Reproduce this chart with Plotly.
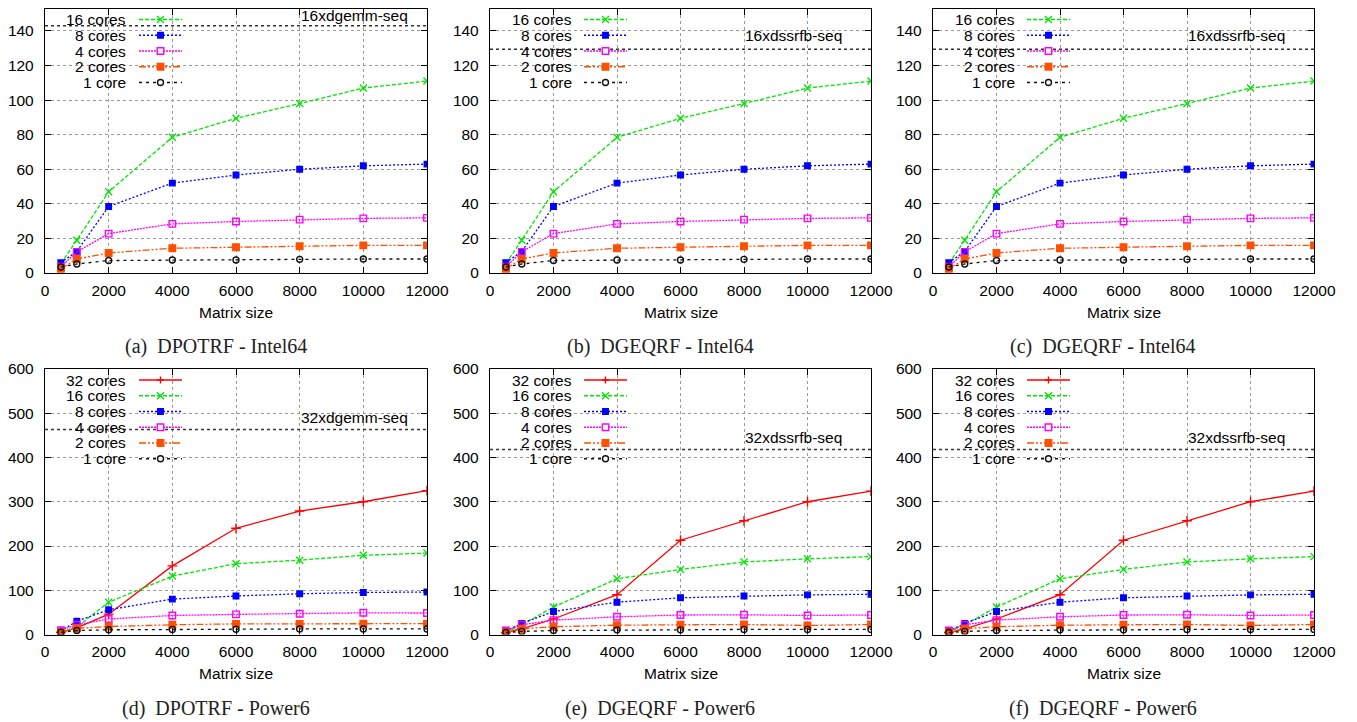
import plotly.graph_objects as go

# ---------------- data ----------------
SIZES = [500, 1000, 2000, 4000, 6000, 8000, 10000, 12000]
XTICKS = [0, 2000, 4000, 6000, 8000, 10000, 12000]
XTICK_LABELS = ["0", "2000", "4000", "6000", "8000", "10000", "12000"]

TOP_SERIES = ["16 cores", "8 cores", "4 cores", "2 cores", "1 core"]
BOTTOM_SERIES = ["32 cores", "16 cores", "8 cores", "4 cores", "2 cores", "1 core"]

# (a) DPOTRF - Intel64
INTEL_DPOTRF_16 = [5.5, 19, 47, 78.5, 89.5, 98, 107, 111]
INTEL_DPOTRF_8 = [6, 12.5, 38.5, 52, 56.7, 60, 62, 63]
INTEL_DPOTRF_4 = [3.6, 12.2, 22.8, 28.4, 29.8, 30.9, 31.6, 31.9]
INTEL_DPOTRF_2 = [2.5, 8.1, 11.6, 14.3, 14.9, 15.5, 16, 16]
INTEL_DPOTRF_1 = [3.5, 5.2, 7.2, 7.5, 7.5, 7.9, 8.1, 8.1]

# (b), (c) DGEQRF - Intel64
INTEL_DGEQRF_16 = [5.5, 19, 47, 78.5, 89.5, 98, 107, 111]
INTEL_DGEQRF_8 = [6, 12.5, 38.5, 52, 56.7, 60, 62, 63]
INTEL_DGEQRF_4 = [3.6, 12.2, 22.8, 28.4, 29.8, 30.9, 31.6, 31.9]
INTEL_DGEQRF_2 = [2.5, 8.1, 11.6, 14.3, 14.9, 15.5, 16, 16]
INTEL_DGEQRF_1 = [3.5, 5.2, 7.2, 7.5, 7.5, 7.9, 8.1, 8.1]

# (d) DPOTRF - Power6
POWER_DPOTRF_32 = [5, 15, 46, 155, 240, 279, 300, 325]
POWER_DPOTRF_16 = [6, 17, 73, 132, 160, 168, 179, 184]
POWER_DPOTRF_8 = [8, 30, 56, 80, 87, 92, 95, 96]
POWER_DPOTRF_4 = [10, 22, 35, 43, 45.5, 47, 49, 48.5]
POWER_DPOTRF_2 = [6, 14, 18, 22, 24, 24, 24.5, 24.5]
POWER_DPOTRF_1 = [5, 9, 10.6, 11.5, 12, 12.5, 12.5, 12.5]

# (e), (f) DGEQRF - Power6
POWER_DGEQRF_32 = [4.5, 13, 35, 90, 213, 257, 300, 324]
POWER_DGEQRF_16 = [5, 22, 62, 126, 147, 164, 171, 176]
POWER_DGEQRF_8 = [8, 25, 52, 73, 83, 87, 89.5, 91]
POWER_DGEQRF_4 = [9, 22, 32.5, 40, 44, 44.5, 43, 44]
POWER_DGEQRF_2 = [5, 13, 17.5, 21, 22, 22.5, 20.5, 22.5]
POWER_DGEQRF_1 = [4.5, 7, 9, 10.5, 10.5, 11.5, 11.5, 11.5]

PEAKS = [143, 129.5, 129.5, 463, 418, 418]
PEAK_LABELS = ["16xdgemm-seq", "16xdssrfb-seq", "16xdssrfb-seq",
               "32xdgemm-seq", "32xdssrfb-seq", "32xdssrfb-seq"]
PEAK_LABEL_X = [8000, 8000, 8000, 8000, 8000, 8000]
PEAK_LABEL_Y = [148.8, 137.5, 137.5, 490, 445, 445]

CAPTIONS = ["(a)\u00a0\u00a0DPOTRF - Intel64", "(b)\u00a0\u00a0DGEQRF - Intel64",
            "(c)\u00a0\u00a0DGEQRF - Intel64", "(d)\u00a0\u00a0DPOTRF - Power6",
            "(e)\u00a0\u00a0DGEQRF - Power6", "(f)\u00a0\u00a0DGEQRF - Power6"]

PANELS = [
    dict(names=TOP_SERIES, values=[INTEL_DPOTRF_16, INTEL_DPOTRF_8, INTEL_DPOTRF_4, INTEL_DPOTRF_2, INTEL_DPOTRF_1]),
    dict(names=TOP_SERIES, values=[INTEL_DGEQRF_16, INTEL_DGEQRF_8, INTEL_DGEQRF_4, INTEL_DGEQRF_2, INTEL_DGEQRF_1]),
    dict(names=TOP_SERIES, values=[INTEL_DGEQRF_16, INTEL_DGEQRF_8, INTEL_DGEQRF_4, INTEL_DGEQRF_2, INTEL_DGEQRF_1]),
    dict(names=BOTTOM_SERIES, values=[POWER_DPOTRF_32, POWER_DPOTRF_16, POWER_DPOTRF_8, POWER_DPOTRF_4, POWER_DPOTRF_2, POWER_DPOTRF_1]),
    dict(names=BOTTOM_SERIES, values=[POWER_DGEQRF_32, POWER_DGEQRF_16, POWER_DGEQRF_8, POWER_DGEQRF_4, POWER_DGEQRF_2, POWER_DGEQRF_1]),
    dict(names=BOTTOM_SERIES, values=[POWER_DGEQRF_32, POWER_DGEQRF_16, POWER_DGEQRF_8, POWER_DGEQRF_4, POWER_DGEQRF_2, POWER_DGEQRF_1]),
]

# ---------------- styles / layout ----------------
# the page body has an 8px margin, so the figure is offset by 8px
PAGE_OFF = 8
SCREEN_W, SCREEN_H = 1357, 722
W, H = SCREEN_W - PAGE_OFF, SCREEN_H - PAGE_OFF
COLS_PX = [(45, 427), (490, 871), (933, 1314)]
ROWS_PX = [(8.5, 273), (369, 634.5)]
YRANGES = [[0, 153.0], [0, 600]]
YDTICK = [20, 100]
CAPTION_X = [216, 660, 1103]
CAPTION_Y = [346, 708]
XTITLE_Y = [312.5, 673.5]

SANS = "Liberation Sans, Arial, sans-serif"
SERIF = "Liberation Serif, Times New Roman, serif"
FS = 15.5

STYLE = {
    "1 core": dict(color="#111111", dash="3px,4px", symbol="circle-open", size=6),
    "2 cores": dict(color="#ff4f00", dash="7px,2px,2px,2px,2px,2px", symbol="square", size=6.5),
    "4 cores": dict(color="#ff00ff", dash="2px,1px", symbol="square-open", size=6.5),
    "8 cores": dict(color="#0000ff", dash="2px,2px", symbol="square", size=5.5),
    "16 cores": dict(color="#00e600", dash="4px,2px", symbol="x-thin-open", size=7),
    "32 cores": dict(color="#ff0000", dash="solid", symbol="cross-thin-open", size=7),
}


def clamp(v):
    return min(1.0, max(0.0, v))


def px2x(p):
    return (p - PAGE_OFF) / W


def px2y(p):
    return 1 - (p - PAGE_OFF) / H


fig = go.Figure()
shapes = []
annotations = []
layout_axes = {}

for k, panel in enumerate(PANELS):
    r, c = divmod(k, 3)
    x0, x1 = COLS_PX[c]
    yt, yb = ROWS_PX[r]
    ax = "" if k == 0 else str(k + 1)
    xname, yname = "x" + ax, "y" + ax

    common = dict(showline=True, linecolor="black", linewidth=1.3, mirror="ticks",
                  ticks="inside", ticklen=6, tickwidth=1, tickcolor="black",
                  showgrid=True, gridcolor="#9a9a9a", gridwidth=1, griddash="dot",
                  zeroline=False, automargin=False,
                  tickfont=dict(family=SANS, size=FS, color="black"))
    layout_axes["xaxis" + ax] = dict(common, domain=[clamp(px2x(x0)), clamp(px2x(x1))],
                                     anchor=yname, range=[0, 12000], tickvals=XTICKS,
                                     ticktext=XTICK_LABELS, ticklabelstandoff=3)
    layout_axes["yaxis" + ax] = dict(common, domain=[clamp(px2y(yb)), clamp(px2y(yt))],
                                     anchor=xname, range=YRANGES[r], tick0=0,
                                     dtick=YDTICK[r], ticklabelstandoff=7)

    for name, vals in zip(panel["names"], panel["values"]):
        st = STYLE[name]
        fig.add_trace(go.Scatter(
            x=SIZES, y=vals, name=name, mode="lines+markers", showlegend=False,
            xaxis=xname, yaxis=yname,
            line=dict(color=st["color"], width=1.3, dash=st["dash"]),
            marker=dict(symbol=st["symbol"], size=st["size"], color=st["color"],
                        line=dict(color=st["color"], width=1.4)),
        ))

    # opaque key background (hides grid)
    n = len(panel["names"])
    row0 = yt + 11
    shapes.append(dict(type="rect", xref="paper", yref="paper", layer="between",
                       x0=px2x(x0 + 1), x1=px2x(x0 + 145), y0=px2y(yt + 1),
                       y1=px2y(row0 + 15.75 * (n - 1) + 8),
                       fillcolor="white", line=dict(width=0)))

    # peak line
    shapes.append(dict(type="line", xref=xname + " domain", yref=yname,
                       x0=0, x1=1, y0=PEAKS[k], y1=PEAKS[k], layer="above",
                       line=dict(color="#333333", width=1.5, dash="dot")))
    annotations.append(dict(text=PEAK_LABELS[k], xref=xname, yref=yname,
                            x=PEAK_LABEL_X[k], y=PEAK_LABEL_Y[k], xanchor="left",
                            yanchor="middle", showarrow=False, borderpad=0,
                            font=dict(family=SANS, size=FS, color="black")))

    # key (gnuplot style: text on the left, sample on the right)
    for i, name in enumerate(panel["names"]):
        st = STYLE[name]
        cy = row0 + 15.75 * i
        annotations.append(dict(text=name, xref="paper", yref="paper",
                                x=px2x(x0 + 83.5), y=px2y(cy), xanchor="right",
                                yanchor="middle", showarrow=False,
                                font=dict(family=SANS, size=FS, color="black")))
        shapes.append(dict(type="line", xref="paper", yref="paper", layer="above",
                           x0=px2x(x0 + 94), x1=px2x(x0 + 137), y0=px2y(cy), y1=px2y(cy),
                           line=dict(color=st["color"], width=1.3, dash=st["dash"])))
        mx = x0 + 115.5
        h = st["size"] / 2
        sym = st["symbol"]
        if sym in ("square", "square-open"):
            shapes.append(dict(type="rect", xref="paper", yref="paper", layer="above",
                               x0=px2x(mx - h), x1=px2x(mx + h), y0=px2y(cy + h), y1=px2y(cy - h),
                               fillcolor=st["color"] if sym == "square" else "white",
                               line=dict(color=st["color"], width=1.4)))
        elif sym == "circle-open":
            shapes.append(dict(type="circle", xref="paper", yref="paper", layer="above",
                               x0=px2x(mx - h), x1=px2x(mx + h), y0=px2y(cy + h), y1=px2y(cy - h),
                               fillcolor="white", line=dict(color=st["color"], width=1.4)))
        elif sym == "x-thin-open":
            path = (f"M {px2x(mx - h)} {px2y(cy - h)} L {px2x(mx + h)} {px2y(cy + h)} "
                    f"M {px2x(mx - h)} {px2y(cy + h)} L {px2x(mx + h)} {px2y(cy - h)}")
            shapes.append(dict(type="path", xref="paper", yref="paper", layer="above",
                               path=path, line=dict(color=st["color"], width=1.4)))
        else:
            path = (f"M {px2x(mx - h)} {px2y(cy)} L {px2x(mx + h)} {px2y(cy)} "
                    f"M {px2x(mx)} {px2y(cy + h)} L {px2x(mx)} {px2y(cy - h)}")
            shapes.append(dict(type="path", xref="paper", yref="paper", layer="above",
                               path=path, line=dict(color=st["color"], width=1.4)))

    # axis title and caption
    annotations.append(dict(text="Matrix size", xref="paper", yref="paper",
                            x=px2x((x0 + x1) / 2), y=px2y(XTITLE_Y[r]), xanchor="center",
                            yanchor="middle", showarrow=False,
                            font=dict(family=SANS, size=FS, color="black")))
    annotations.append(dict(text=CAPTIONS[k], xref="paper", yref="paper",
                            x=px2x(CAPTION_X[c]), y=px2y(CAPTION_Y[r]), xanchor="center",
                            yanchor="middle", showarrow=False,
                            font=dict(family=SERIF, size=20, color="#222222")))

fig.update_layout(
    width=W, height=H, autosize=False,
    margin=dict(l=0, r=0, t=0, b=0),
    paper_bgcolor="white", plot_bgcolor="white",
    showlegend=False, shapes=shapes, annotations=annotations,
    **layout_axes,
)

fig.write_html("out.html")
